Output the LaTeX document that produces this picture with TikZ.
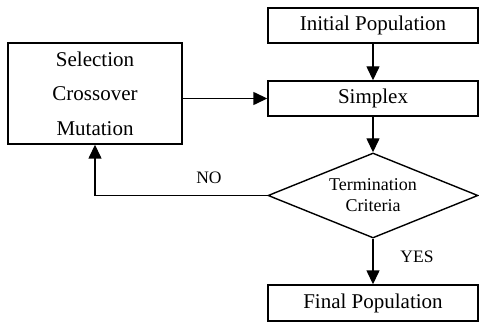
\documentclass[tikz,border=0pt]{standalone}
\usepackage{fontspec}
\setmainfont{Liberation Serif}
\newfontfamily\tmsfont{Liberation Serif}
\usetikzlibrary{shapes.geometric,arrows.meta}
\begin{document}
\begin{tikzpicture}[x=1pt,y=-1pt,
  box/.style={draw,line width=1.4pt,minimum height=35pt,minimum width=210pt,inner sep=0pt,font=\tmsfont\fontsize{21}{25}\selectfont},
  selbox/.style={draw,line width=1.4pt,minimum height=101pt,minimum width=174pt,inner sep=0pt,align=center,font=\tmsfont\fontsize{21}{34.5}\selectfont},
  dec/.style={draw,diamond,line width=1.4pt,inner sep=0pt,shape aspect=2.47,minimum width=210pt,minimum height=85pt,align=center,font=\tmsfont\fontsize{18}{21}\selectfont},
  arr/.style={line width=1.4pt,-{Triangle[length=14pt,width=13pt]}},
  lab/.style={font=\tmsfont\fontsize{17.5}{21}\selectfont}]
\useasboundingbox (0,0) rectangle (479,323);
\node[box] (init) at (373,25.5) {Initial Population};
\node[box] (simp) at (373,98.5) {Simplex};
\node[selbox] (sel) at (95,93.5) {Selection\\Crossover\\Mutation};
\node[dec] (term) at (373,195.5) {Termination\\Criteria};
\node[box,minimum height=36pt] (fin) at (373,303) {Final Population};
\draw[arr] (init) -- (simp);
\draw[arr] (simp) -- (term);
\draw[arr] (sel.east |- simp.west) -- (simp.west);
\draw[arr] (term.west) -| (sel.south);
\draw[arr] (term) -- (fin);
\node[lab] (no) at (209,178) {NO};
\node[lab] (yes) at (417,257) {YES};
\end{tikzpicture}
\end{document}
